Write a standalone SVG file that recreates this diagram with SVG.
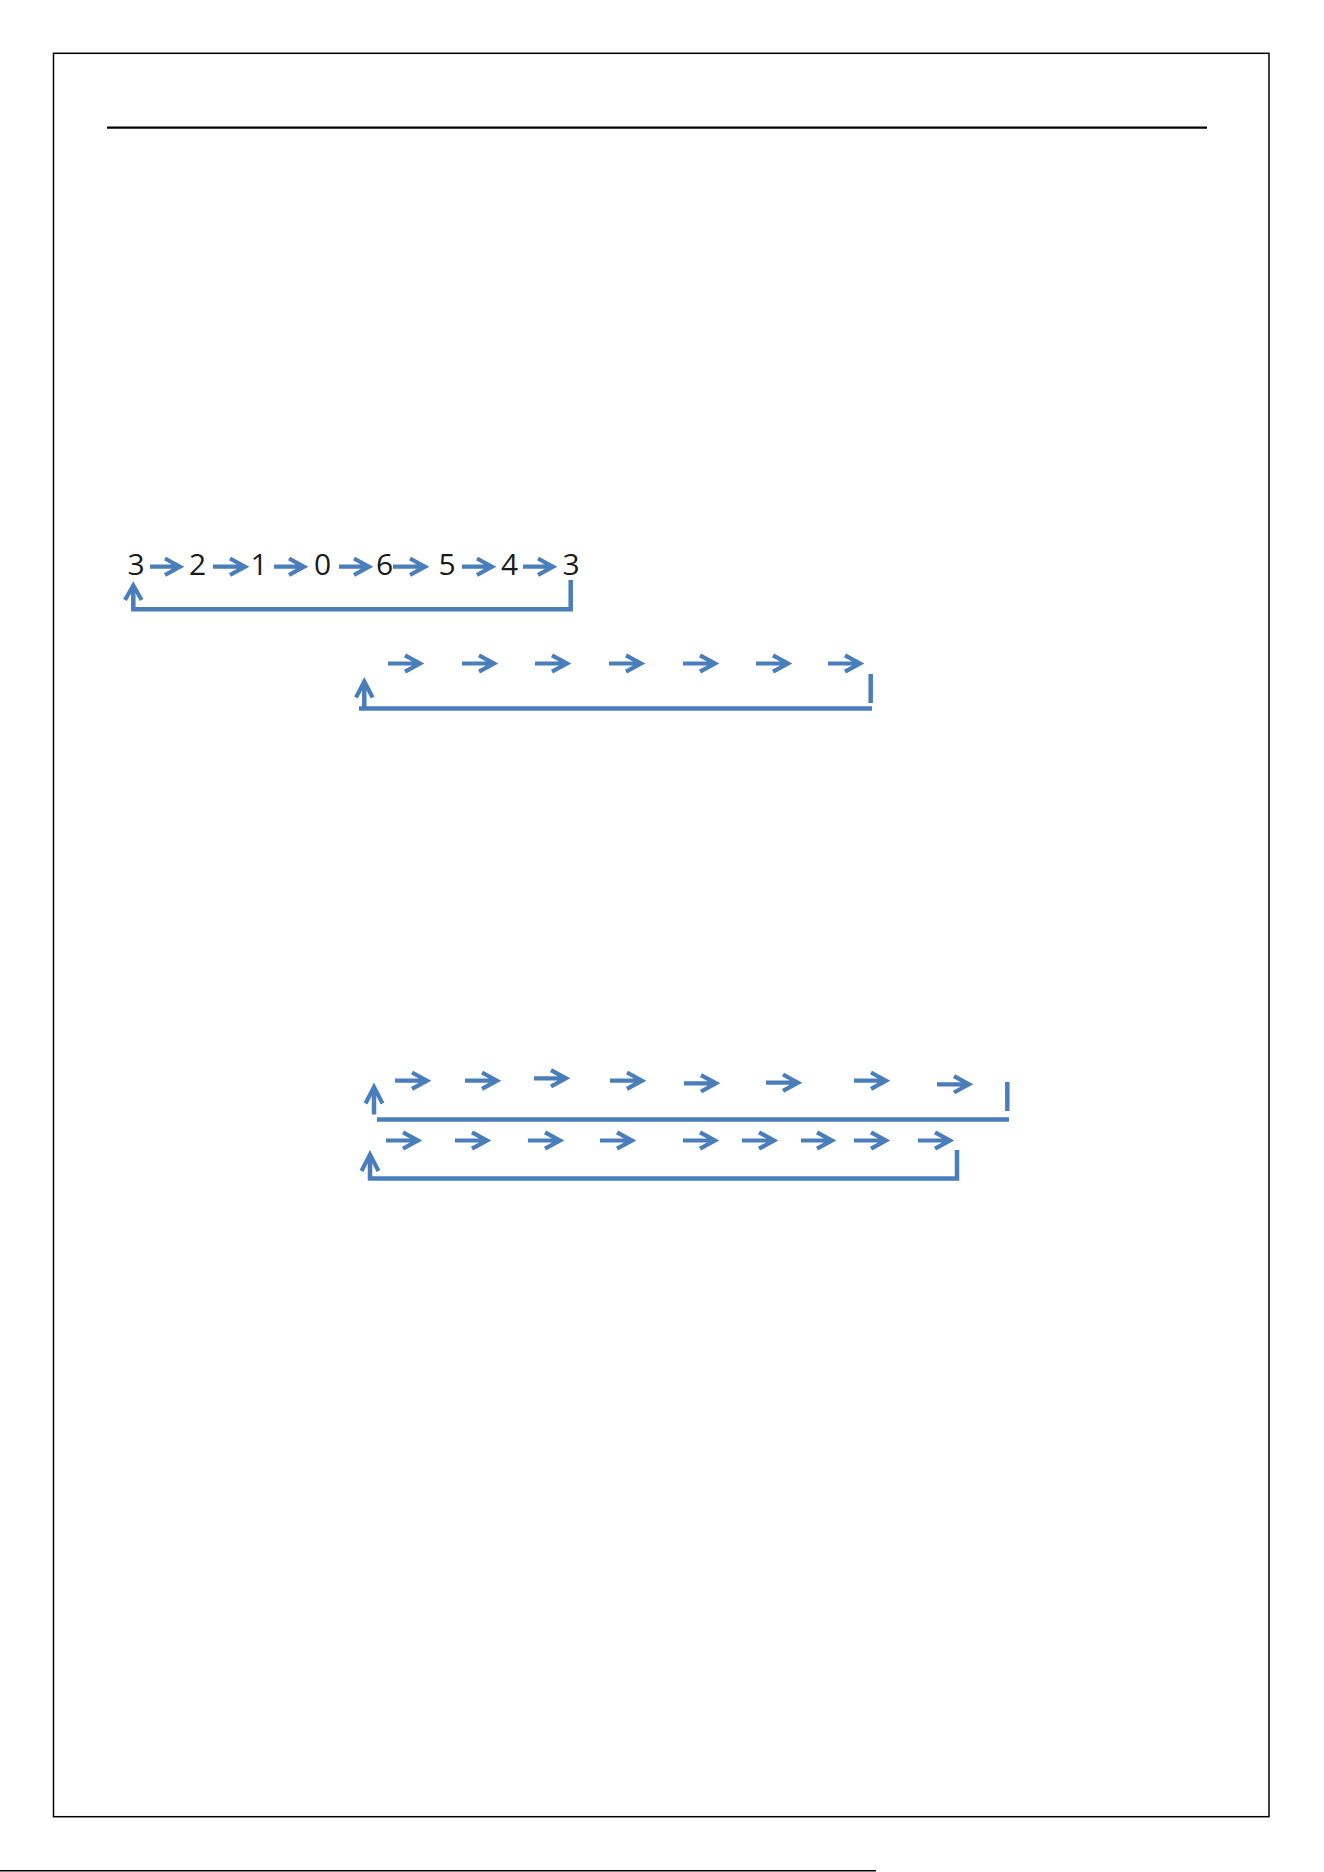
<svg xmlns="http://www.w3.org/2000/svg" width="1324" height="1872" viewBox="0 0 1324 1872">
<style>
.a{fill:none;stroke:#4a7ebb;stroke-width:4.2;stroke-linecap:butt;stroke-linejoin:miter;stroke-miterlimit:4}
.b{fill:none;stroke:#4a7ebb;stroke-width:4.5;stroke-linecap:butt;stroke-linejoin:miter}
.d{font-family:"Open Sans","Liberation Sans",sans-serif;font-size:30px;fill:#1a1a1a;text-anchor:middle}
</style>
<rect width="1324" height="1872" fill="#ffffff"/>
<g id="page">
<rect x="53.5" y="53.3" width="1215.5" height="1763.4" fill="none" stroke="#000" stroke-width="1.5"/>
<line x1="107" y1="127.7" x2="1207" y2="127.7" stroke="#000" stroke-width="2.2"/>
<line x1="0" y1="1870.7" x2="876" y2="1870.7" stroke="#000" stroke-width="1.5"/>
</g>
<g id="n1"><text class="d" x="136" y="575">3</text></g>
<g id="n2"><text class="d" x="197.5" y="575">2</text></g>
<g id="n3"><text class="d" x="259" y="575">1</text></g>
<g id="n4"><text class="d" x="322.7" y="575">0</text></g>
<g id="n5"><text class="d" x="384.5" y="575">6</text></g>
<g id="n6"><text class="d" x="447" y="575">5</text></g>
<g id="n7"><text class="d" x="509.7" y="575">4</text></g>
<g id="n8"><text class="d" x="571.2" y="575">3</text></g>
<g id="connectors">
<!-- row 1 -->
<path class="a" d="M150 566.7H180M165 558.5L180 566.7L165 575"/>
<path class="a" d="M213 566.7H245M230 558.5L245 566.7L230 575"/>
<path class="a" d="M274 566.7H304M289 558.5L304 566.7L289 575"/>
<path class="a" d="M339 566.7H369M354 558.5L369 566.7L354 575"/>
<path class="a" d="M393 566.7H425M410 558.5L425 566.7L410 575"/>
<path class="a" d="M462 566.7H492M477 558.5L492 566.7L477 575"/>
<path class="a" d="M523 566.7H553M538 558.5L553 566.7L538 575"/>
<path class="b" d="M570.7 580V609.3H133.3V587"/>
<path class="a" d="M125 600L133.3 585.5L141.7 600"/>
<!-- row 2 -->
<path class="a" d="M388 663.5H420M405 655.3L420 663.5L405 671.7"/>
<path class="a" d="M462 663.5H494M479 655.3L494 663.5L479 671.7"/>
<path class="a" d="M535 663.5H567M552 655.3L567 663.5L552 671.7"/>
<path class="a" d="M609 663.5H641M626 655.3L641 663.5L626 671.7"/>
<path class="a" d="M683 663.5H715M700 655.3L715 663.5L700 671.7"/>
<path class="a" d="M756 663.5H788M773 655.3L788 663.5L773 671.7"/>
<path class="a" d="M828 663.5H860M845 655.3L860 663.5L845 671.7"/>
<path class="b" d="M870.7 674V703"/>
<path class="b" d="M359 708.5H872"/>
<path class="b" d="M364.3 708V683"/>
<path class="a" d="M356 697.5L364.3 681.5L372.6 697.5"/>
<!-- row A -->
<path class="a" d="M395 1080.7H427M412 1072.5L427 1080.7L412 1088.9"/>
<path class="a" d="M465 1080.7H497M482 1072.5L497 1080.7L482 1088.9"/>
<path class="a" d="M534 1078.3H566M551 1070.1L566 1078.3L551 1086.5"/>
<path class="a" d="M610 1080.7H642M627 1072.5L642 1080.7L627 1088.9"/>
<path class="a" d="M684 1083.3H716M701 1075.1L716 1083.3L701 1091.5"/>
<path class="a" d="M766 1082.7H798M783 1074.5L798 1082.7L783 1090.9"/>
<path class="a" d="M854 1080.7H886M871 1072.5L886 1080.7L871 1088.9"/>
<path class="a" d="M937 1084.3H969M954 1076.1L969 1084.3L954 1092.5"/>
<path class="b" d="M1007.3 1082V1111"/>
<path class="b" d="M377 1119.5H1009"/>
<path class="b" d="M374 1114.5V1089"/>
<path class="a" d="M365.5 1103.5L374 1087L382.5 1103.5"/>
<!-- row B -->
<path class="a" d="M386 1140.5H418M403 1132.3L418 1140.5L403 1148.7"/>
<path class="a" d="M455 1140.5H487M472 1132.3L487 1140.5L472 1148.7"/>
<path class="a" d="M528 1140.5H560M545 1132.3L560 1140.5L545 1148.7"/>
<path class="a" d="M600 1140.5H632M617 1132.3L632 1140.5L617 1148.7"/>
<path class="a" d="M683 1140.5H715M700 1132.3L715 1140.5L700 1148.7"/>
<path class="a" d="M742 1140.5H774M759 1132.3L774 1140.5L759 1148.7"/>
<path class="a" d="M801 1140.5H832M817 1132.3L832 1140.5L817 1148.7"/>
<path class="a" d="M854 1140.5H886M871 1132.3L886 1140.5L871 1148.7"/>
<path class="a" d="M918 1140.5H950M935 1132.3L950 1140.5L935 1148.7"/>
<path class="b" d="M957 1150V1178.5H370V1156"/>
<path class="a" d="M361.5 1171L370 1154.5L378.5 1171"/>
</g>
</svg>
